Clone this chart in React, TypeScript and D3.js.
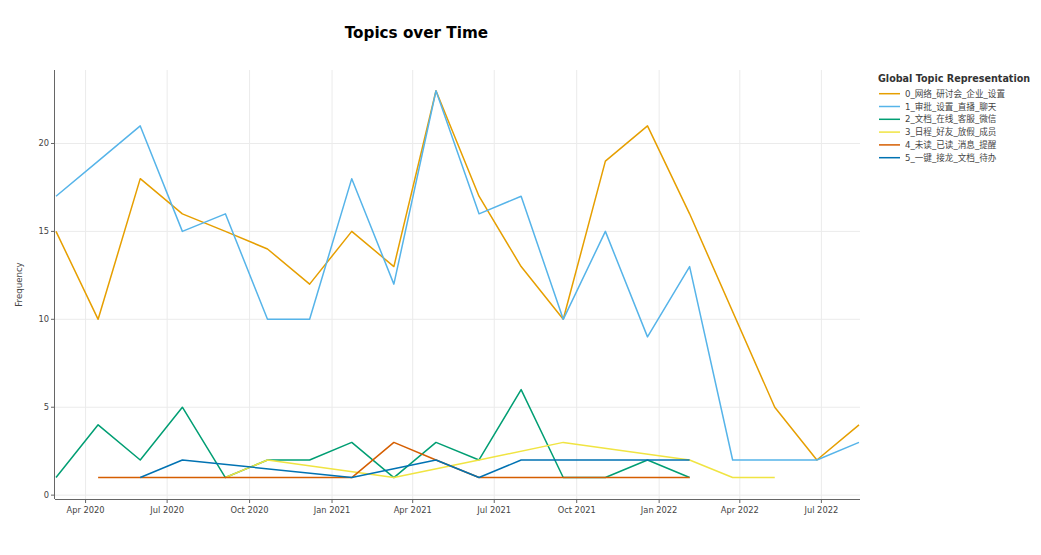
import React, { useEffect, useRef } from "react";
import * as d3 from "d3";

const width = 1041;
const height = 555;

// bin start dates
const timestamps = [
  "2020-02-28", "2020-04-15", "2020-06-01", "2020-07-18", "2020-09-04",
  "2020-10-21", "2020-12-07", "2021-01-23", "2021-03-11", "2021-04-27",
  "2021-06-14", "2021-07-31", "2021-09-16", "2021-11-02", "2021-12-19",
  "2022-02-04", "2022-03-24", "2022-05-10", "2022-06-26", "2022-08-12",
];

const topicNames = [
  "0_网络_研讨会_企业_设置",
  "1_审批_设置_直播_聊天",
  "2_文档_在线_客服_微信",
  "3_日程_好友_放假_成员",
  "4_未读_已读_消息_提醒",
  "5_一键_接龙_文档_待办",
];

const topicColors = ["#E69F00", "#56B4E9", "#009E73", "#F0E442", "#D55E00", "#0072B2"];

// frequency per bin, null = topic absent in that bin
const topic0 = [15, 10, 18, 16, 15, 14, 12, 15, 13, 23, 17, 13, 10, 19, 21, 16, null, 5, 2, 4];
const topic1 = [17, 19, 21, 15, 16, 10, 10, 18, 12, 23, 16, 17, 10, 15, 9, 13, 2, 2, 2, 3];
const topic2 = [1, 4, 2, 5, 1, 2, 2, 3, 1, 3, 2, 6, 1, 1, 2, 1, null, null, null, null];
const topic3 = [null, null, null, null, 1, 2, null, null, 1, null, 2, null, 3, null, null, 2, 1, 1, null, null];
const topic4 = [null, 1, null, null, null, null, null, 1, 3, 2, 1, null, null, null, null, 1, null, null, null, null];
const topic5 = [null, null, 1, 2, null, null, null, 1, null, 2, 1, 2, null, null, null, 2, null, null, null, null];

const series = [topic0, topic1, topic2, topic3, topic4, topic5];

const yTicks = [0, 5, 10, 15, 20];

const font = "'DejaVu Sans', 'Noto Sans CJK SC', sans-serif";

export default function App() {
  const node = useRef<SVGSVGElement>(null);

  useEffect(() => {
    document.body.style.margin = "0";
    const svg = d3.select(node.current);
    svg.selectAll("*").remove();

    const parse = d3.utcParse("%Y-%m-%d");
    const dates = timestamps.map((d) => parse(d) as Date);

    const left = 55, right = 860, top = 70, bottom = 499;

    const x = d3.scaleUtc()
      .domain([dates[0], dates[dates.length - 1]])
      .range([56, 859]);
    const y = d3.scaleLinear().domain([-0.22, 24.18]).range([bottom, top]);

    const xTicks = x.ticks(d3.utcMonth.every(3) as any);

    // grid
    svg.append("g")
      .selectAll("line")
      .data(xTicks)
      .join("line")
      .attr("x1", (d) => x(d)).attr("x2", (d) => x(d))
      .attr("y1", top).attr("y2", bottom)
      .attr("stroke", "#ebebeb").attr("stroke-width", 1);
    svg.append("g")
      .selectAll("line")
      .data(yTicks)
      .join("line")
      .attr("x1", left).attr("x2", right)
      .attr("y1", (d) => y(d)).attr("y2", (d) => y(d))
      .attr("stroke", "#ebebeb").attr("stroke-width", 1);

    // lines
    const line = d3.line<[Date, number]>()
      .x((d) => x(d[0]))
      .y((d) => y(d[1]));

    series.forEach((vals, i) => {
      const pts = vals
        .map((v, j) => [dates[j], v] as [Date, number | null])
        .filter((p) => p[1] !== null) as [Date, number][];
      svg.append("path")
        .attr("d", line(pts))
        .attr("fill", "none")
        .attr("stroke", topicColors[i])
        .attr("stroke-width", 1.5)
        .attr("stroke-linejoin", "round");
    });

    // axes
    const xAxis = svg.append("g");
    xAxis.append("line")
      .attr("x1", left).attr("x2", right)
      .attr("y1", bottom + 0.5).attr("y2", bottom + 0.5)
      .attr("stroke", "#666");
    xAxis.selectAll("line.tick")
      .data(xTicks)
      .join("line")
      .attr("class", "tick")
      .attr("x1", (d) => x(d)).attr("x2", (d) => x(d))
      .attr("y1", bottom).attr("y2", bottom + 4)
      .attr("stroke", "#666");
    xAxis.selectAll("text")
      .data(xTicks)
      .join("text")
      .attr("x", (d) => x(d))
      .attr("y", 513)
      .attr("text-anchor", "middle")
      .attr("font-family", font)
      .attr("font-size", 8.3)
      .attr("fill", "#444")
      .text((d) => d3.utcFormat("%b %Y")(d));

    const yAxis = svg.append("g");
    yAxis.append("line")
      .attr("x1", left - 0.5).attr("x2", left - 0.5)
      .attr("y1", top).attr("y2", bottom)
      .attr("stroke", "#666");
    yAxis.selectAll("line.tick")
      .data(yTicks)
      .join("line")
      .attr("class", "tick")
      .attr("x1", left - 4).attr("x2", left)
      .attr("y1", (d) => y(d)).attr("y2", (d) => y(d))
      .attr("stroke", "#666");
    yAxis.selectAll("text")
      .data(yTicks)
      .join("text")
      .attr("x", 49)
      .attr("y", (d) => y(d) + 3)
      .attr("text-anchor", "end")
      .attr("font-family", font)
      .attr("font-size", 8.3)
      .attr("fill", "#444")
      .text((d) => String(d));

    svg.append("text")
      .attr("transform", `translate(21.5, ${(top + bottom) / 2}) rotate(-90)`)
      .attr("text-anchor", "middle")
      .attr("font-family", font)
      .attr("font-size", 8.6)
      .attr("fill", "#444")
      .text("Frequency");

    // title
    svg.append("text")
      .attr("x", width * 0.4)
      .attr("y", 38)
      .attr("text-anchor", "middle")
      .attr("font-family", font)
      .attr("font-size", 15.2)
      .attr("font-weight", "bold")
      .attr("fill", "#000")
      .text("Topics over Time");

    // legend
    const legend = svg.append("g");
    legend.append("text")
      .attr("x", 878)
      .attr("y", 81.5)
      .attr("font-family", font)
      .attr("font-size", 9.6)
      .attr("font-weight", "bold")
      .attr("fill", "#333")
      .text("Global Topic Representation");
    const items = legend.selectAll("g.item")
      .data(topicNames)
      .join("g")
      .attr("class", "item")
      .attr("transform", (d, i) => `translate(0, ${93.7 + i * 12.8})`);
    items.append("line")
      .attr("x1", 879).attr("x2", 900)
      .attr("stroke", (d, i) => topicColors[i])
      .attr("stroke-width", 1.5);
    items.append("text")
      .attr("x", 905)
      .attr("y", 3)
      .attr("font-family", font)
      .attr("font-size", 8.6)
      .attr("fill", "#444")
      .text((d) => d);
  }, []);

  return <svg ref={node} width={width} height={height} style={{ display: "block", background: "#fff" }} />;
}
